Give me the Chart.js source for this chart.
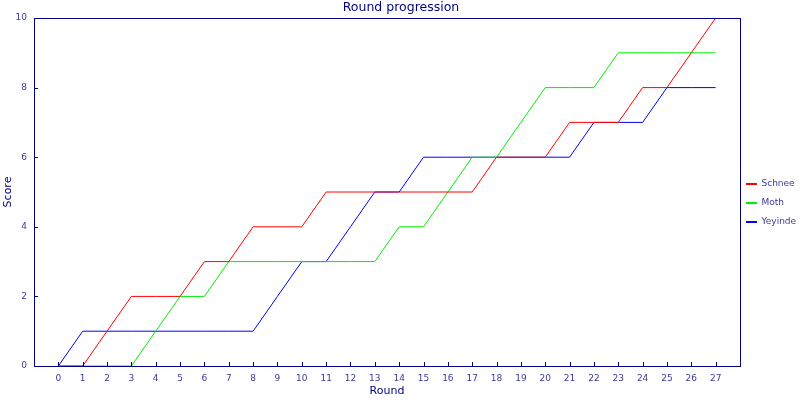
<!DOCTYPE html>
<html>
<head>
<meta charset="utf-8">
<script src="https://cdn.jsdelivr.net/npm/chart.js@4"></script>
<style>
  html, body { margin: 0; padding: 0; background: #fff; }
  #wrap { width: 800px; height: 400px; }
</style>
</head>
<body>
<div id="wrap"><canvas id="roundChart"></canvas></div>
<script>
// Score per round for each player
const rounds = [0,1,2,3,4,5,6,7,8,9,10,11,12,13,14,15,16,17,18,19,20,21,22,23,24,25,26,27];
const schnee  = [0,0,1,2,2,2,3,3,4,4,4,5,5,5,5,5,5,5,6,6,6,7,7,7,8,8,9,10];
const moth    = [0,0,0,0,1,2,2,3,3,3,3,3,3,3,4,4,5,6,6,7,8,8,8,9,9,9,9,9];
const yeyinde = [0,1,1,1,1,1,1,1,1,2,3,3,4,5,5,6,6,6,6,6,6,6,7,7,7,8,8,8];
const yTicks = [0, 2, 4, 6, 8, 10];

const navy = '#000080';
const textColor = '#3b3b9b';
const font = "'DejaVu Sans', Verdana, sans-serif";

function toPoints(values) {
    return rounds.map(function(r, i) { return { x: r, y: values[i] }; });
}

function makeSet(label, values, color) {
    return {
        label: label,
        data: toPoints(values),
        borderColor: color,
        backgroundColor: color,
        borderWidth: 1,
        pointRadius: 0,
        pointStyle: 'line',
        tension: 0,
        fill: false
    };
}

// box round the plot and tick marks pointing inwards
const frameTicks = {
    id: 'frameTicks',
    afterInit: function(chart) {
        // keep the legend column narrow so the plot reaches x=740
        const legend = chart.legend;
        if (!legend) return;
        const origFit = legend.fit;
        legend.fit = function() {
            origFit.call(this);
            this.width = 60;
        };
        const origDraw = legend.draw;
        legend.draw = function() {
            this.ctx.save();
            this.ctx.translate(-4, 4);
            origDraw.call(this);
            this.ctx.restore();
        };
    },
    afterDatasetsDraw: function(chart) {
        const ctx = chart.ctx;
        const a = chart.chartArea;
        const xs = chart.scales.x;
        const ys = chart.scales.y;
        ctx.save();
        ctx.strokeStyle = navy;
        ctx.lineWidth = 1;
        ctx.beginPath();
        rounds.forEach(function(r) {
            const px = Math.round(xs.getPixelForValue(r)) + 0.5;
            ctx.moveTo(px, a.bottom);
            ctx.lineTo(px, a.bottom - 4);
        });
        yTicks.forEach(function(v) {
            const py = Math.round(ys.getPixelForValue(v)) + 0.5;
            ctx.moveTo(a.left, py);
            ctx.lineTo(a.left + 4, py);
        });
        ctx.stroke();
        ctx.strokeRect(Math.round(a.left) + 0.5, Math.round(a.top) + 0.5,
            Math.round(a.right - a.left), Math.round(a.bottom - a.top));
        ctx.restore();
    }
};

new Chart(document.getElementById('roundChart'), {
    type: 'line',
    data: {
        datasets: [
            makeSet('Schnee', schnee, '#ff0000'),
            makeSet('Moth', moth, '#00ee00'),
            makeSet('Yeyinde', yeyinde, '#0000ff')
        ]
    },
    options: {
        responsive: true,
        maintainAspectRatio: false,
        animation: false,
        layout: { padding: { left: 2, right: 0, top: 0, bottom: 2 } },
        plugins: {
            title: {
                display: true,
                text: 'Round progression',
                color: navy,
                font: { family: font, size: 12.5, weight: 'normal' },
                padding: { top: 0, bottom: 3 }
            },
            legend: {
                position: 'right',
                labels: {
                    color: textColor,
                    font: { family: font, size: 9 },
                    usePointStyle: true,
                    pointStyleWidth: 11,
                    boxWidth: 11,
                    padding: 10,
                    generateLabels: function(chart) {
                        const items = Chart.defaults.plugins.legend.labels.generateLabels(chart);
                        items.forEach(function(it) { it.lineWidth = 2; });
                        return items;
                    }
                }
            },
            tooltip: { enabled: false }
        },
        scales: {
            x: {
                type: 'linear',
                min: -1,
                max: 28,
                grid: { display: false, drawTicks: false },
                border: { display: false },
                afterBuildTicks: function(scale) {
                    scale.ticks = rounds.map(function(r) { return { value: r }; });
                },
                afterFit: function(scale) { scale.height = 32; },
                ticks: {
                    color: textColor,
                    font: { family: font, size: 9 },
                    padding: 7,
                    maxRotation: 0,
                    autoSkip: false
                },
                title: {
                    display: true,
                    text: 'Round',
                    color: navy,
                    font: { family: font, size: 11 },
                    padding: { top: 0, bottom: 0 }
                }
            },
            y: {
                min: 0,
                max: 10,
                grid: { display: false, drawTicks: false },
                border: { display: false },
                afterBuildTicks: function(scale) {
                    scale.ticks = yTicks.map(function(v) { return { value: v }; });
                },
                afterFit: function(scale) { scale.width = 32; },
                ticks: {
                    color: textColor,
                    font: { family: font, size: 9 },
                    padding: 7
                },
                title: {
                    display: true,
                    text: 'Score',
                    color: navy,
                    font: { family: font, size: 11 },
                    padding: { top: 0, bottom: 0 }
                }
            }
        }
    },
    plugins: [frameTicks]
});
</script>
</body>
</html>
